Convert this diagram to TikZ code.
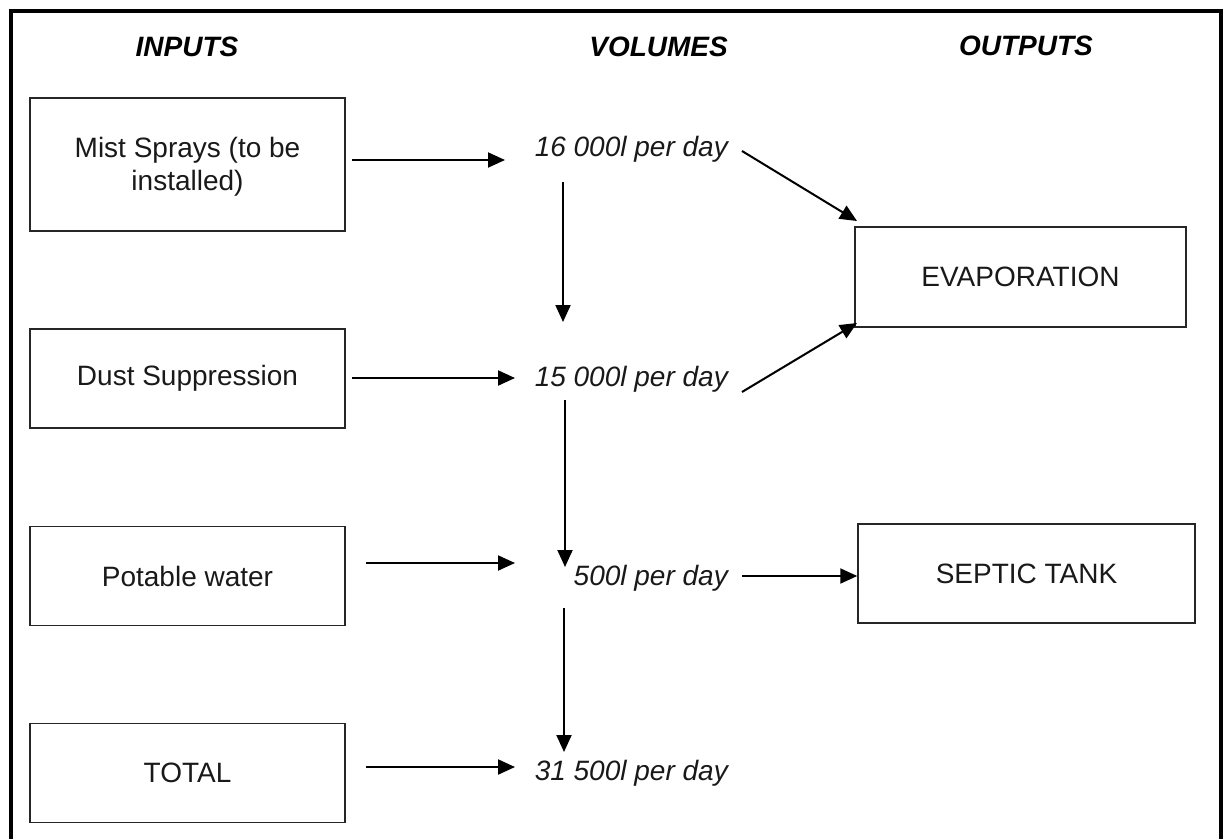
\documentclass[tikz,border=0pt]{standalone}
\usepackage{fontspec}
\setmainfont{Liberation Sans}
\usetikzlibrary{arrows.meta}
\begin{document}
\begin{tikzpicture}[x=1pt,y=-1pt,
  box/.style={draw=black!85, line width=1.5pt, minimum width=315pt, minimum height=99pt, inner sep=0pt, align=center, font=\fontsize{28}{32}\selectfont, text=black!90},
  vol/.style={anchor=east, inner sep=0pt, font=\fontsize{28}{32}\selectfont\itshape, text=black!90},
  head/.style={inner sep=0pt, font=\fontsize{28}{32}\selectfont\bfseries\itshape},
  arr/.style={line width=2pt, -{Triangle[length=17pt,width=15pt]}},
  frame/.style={line width=4pt}]
\useasboundingbox (0,0) rectangle (1230,838);
% frame
\draw[frame] (10.5,850) -- (10.5,11) -- (1221,11) -- (1221,850);
% headings
\node[head] (hin) at (187,47) {INPUTS};
\node[head, anchor=east] (hvol) at (728,47) {VOLUMES};
\node[head] (hout) at (1026,46) {OUTPUTS};
% input boxes
\node[box, minimum height=133pt] (mist) at (187.5,164.5) {};
\node[align=center, inner sep=0pt, font=\fontsize{28}{33}\selectfont, text=black!90] (misttxt) at (187.5,167) {Mist Sprays (to be\\installed)};
\node[box] (dust) at (187.5,378.5) {Dust Suppression};
\node[box] (pot) at (187.5,576) {Potable water};
\node[box] (tot) at (187.5,773) {TOTAL};
% output boxes
\node[box, minimum width=331pt, minimum height=100pt] (evap) at (1020.5,277) {EVAPORATION};
\node[box, minimum width=337pt] (sep) at (1026.5,573.5) {SEPTIC TANK};
% volumes
\node[vol] (v16) at (728,149) {16 000l per day};
\node[vol] (v15) at (728,379) {15 000l per day};
\node[vol] (v05) at (728,578) {500l per day};
\node[vol] (v31) at (728,773) {31 500l per day};
% connector ends
\coordinate (a1s) at (352,160); \coordinate (a1e) at (505,160);
\coordinate (a2s) at (563,182); \coordinate (a2e) at (563,322);
\coordinate (a3s) at (352,378); \coordinate (a3e) at (515,378);
\coordinate (a4s) at (565,400); \coordinate (a4e) at (565,567);
\coordinate (a5s) at (366,563); \coordinate (a5e) at (515,563);
\coordinate (a6s) at (742,576);
\coordinate (a7s) at (564,608); \coordinate (a7e) at (564,752);
\coordinate (a8s) at (366,767); \coordinate (a8e) at (515,767);
\coordinate (a9s) at (742,151); \coordinate (a9e) at (857,221);
\coordinate (a10s) at (742,392); \coordinate (a10e) at (857,323);
% connectors
\draw[arr] (a1s) -- (a1e);
\draw[arr] (a2s) -- (a2e);
\draw[arr] (a3s) -- (a3e);
\draw[arr] (a4s) -- (a4e);
\draw[arr] (a5s) -- (a5e);
\draw[arr] (a6s) -- (a6s -| sep.west);
\draw[arr] (a7s) -- (a7e);
\draw[arr] (a8s) -- (a8e);
\draw[arr] (a9s) -- (a9e);
\draw[arr] (a10s) -- (a10e);
\end{tikzpicture}
\end{document}
